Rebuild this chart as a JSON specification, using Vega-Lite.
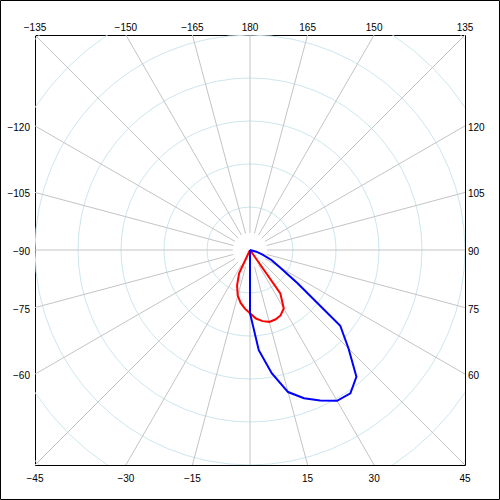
{
  "$schema": "https://vega.github.io/schema/vega-lite/v6.json",
  "width": 430,
  "height": 430,
  "autosize": {"type": "none"},
  "padding": {"left": 35, "top": 35, "right": 35, "bottom": 35},
  "background": "white",
  "config": {"view": {"stroke": "black", "strokeWidth": 1}},
  "datasets": {
    "angles": [
      {"angle": -165}, {"angle": -150}, {"angle": -135}, {"angle": -120}, {"angle": -105}, {"angle": -90},
      {"angle": -75}, {"angle": -60}, {"angle": -45}, {"angle": -30}, {"angle": -15}, {"angle": 0},
      {"angle": 15}, {"angle": 30}, {"angle": 45}, {"angle": 60}, {"angle": 75}, {"angle": 90},
      {"angle": 105}, {"angle": 120}, {"angle": 135}, {"angle": 150}, {"angle": 165}, {"angle": 180}
    ],
    "rings": [{"r": 100}, {"r": 200}, {"r": 300}, {"r": 400}, {"r": 500}, {"r": 600}, {"r": 700}],
    "curves": [
      {"series": "curve1", "angle": -5, "cd": 0},
      {"series": "curve1", "angle": 0, "cd": 147},
      {"series": "curve1", "angle": 5, "cd": 234},
      {"series": "curve1", "angle": 10, "cd": 291},
      {"series": "curve1", "angle": 15, "cd": 342},
      {"series": "curve1", "angle": 20, "cd": 367},
      {"series": "curve1", "angle": 25, "cd": 386},
      {"series": "curve1", "angle": 30, "cd": 405},
      {"series": "curve1", "angle": 35, "cd": 407},
      {"series": "curve1", "angle": 40, "cd": 385},
      {"series": "curve1", "angle": 45, "cd": 324},
      {"series": "curve1", "angle": 50, "cd": 274},
      {"series": "curve1", "angle": 55, "cd": 135},
      {"series": "curve1", "angle": 60, "cd": 80},
      {"series": "curve1", "angle": 65, "cd": 55},
      {"series": "curve1", "angle": 70, "cd": 30},
      {"series": "curve1", "angle": 75, "cd": 15},
      {"series": "curve1", "angle": 80, "cd": 0},
      {"series": "curve2", "angle": -30, "cd": 0},
      {"series": "curve2", "angle": -25, "cd": 60},
      {"series": "curve2", "angle": -20, "cd": 88},
      {"series": "curve2", "angle": -15, "cd": 110},
      {"series": "curve2", "angle": -10, "cd": 125},
      {"series": "curve2", "angle": -5, "cd": 137},
      {"series": "curve2", "angle": 0, "cd": 147},
      {"series": "curve2", "angle": 5, "cd": 160},
      {"series": "curve2", "angle": 10, "cd": 168},
      {"series": "curve2", "angle": 15, "cd": 173},
      {"series": "curve2", "angle": 20, "cd": 172},
      {"series": "curve2", "angle": 25, "cd": 168},
      {"series": "curve2", "angle": 30, "cd": 157},
      {"series": "curve2", "angle": 35, "cd": 123},
      {"series": "curve2", "angle": 40, "cd": 0}
    ]
  },
  "layer": [
    {
      "data": {"name": "rings"},
      "mark": {"type": "point", "shape": "circle", "filled": false, "stroke": "#cde6ee", "strokeWidth": 1, "opacity": 1, "clip": true},
      "encoding": {
        "x": {"datum": 0, "type": "quantitative", "scale": {"domain": [-500, 500], "nice": false, "zero": false}, "axis": null},
        "y": {"datum": 0, "type": "quantitative", "scale": {"domain": [-500, 500], "nice": false, "zero": false}, "axis": null},
        "size": {"field": "r", "type": "quantitative", "scale": {"type": "pow", "exponent": 2, "domain": [0, 700], "range": [0, 362404]}, "legend": null}
      }
    },
    {
      "data": {"name": "angles"},
      "transform": [
        {"calculate": "datum.angle * PI / 180", "as": "rad"},
        {"calculate": "500 / max(abs(sin(datum.rad)), abs(cos(datum.rad)))", "as": "s"},
        {"calculate": "40 * sin(datum.rad)", "as": "x1"},
        {"calculate": "-40 * cos(datum.rad)", "as": "y1"},
        {"calculate": "datum.s * sin(datum.rad)", "as": "x2"},
        {"calculate": "-datum.s * cos(datum.rad)", "as": "y2"}
      ],
      "mark": {"type": "rule", "color": "#c4c4c4", "strokeWidth": 1},
      "encoding": {
        "x": {"field": "x1", "type": "quantitative", "scale": {"domain": [-500, 500], "nice": false, "zero": false}, "axis": null},
        "y": {"field": "y1", "type": "quantitative", "scale": {"domain": [-500, 500], "nice": false, "zero": false}, "axis": null},
        "x2": {"field": "x2"},
        "y2": {"field": "y2"}
      }
    },
    {
      "data": {"values": [{}]},
      "mark": {"type": "rect", "filled": false, "stroke": "black", "strokeWidth": 1, "clip": false},
      "encoding": {
        "x": {"datum": -580.2, "type": "quantitative"},
        "x2": {"datum": 580.2},
        "y": {"datum": -580.2, "type": "quantitative"},
        "y2": {"datum": 580.2}
      }
    },
    {
      "data": {"name": "angles"},
      "transform": [
        {"filter": "abs(datum.angle) >= 135"},
        {"calculate": "datum.angle * PI / 180", "as": "rad"},
        {"calculate": "500 / max(abs(sin(datum.rad)), abs(cos(datum.rad)))", "as": "s"},
        {"calculate": "datum.s * sin(datum.rad)", "as": "fx"},
        {"calculate": "-datum.s * cos(datum.rad)", "as": "fy"}
      ],
      "mark": {"type": "text", "font": "Liberation Sans", "fontSize": 10, "color": "black", "align": "center", "baseline": "middle", "dy": -7, "clip": false},
      "encoding": {
        "x": {"field": "fx", "type": "quantitative"},
        "y": {"field": "fy", "type": "quantitative"},
        "text": {"field": "angle", "type": "quantitative", "format": "d"}
      }
    },
    {
      "data": {"name": "angles"},
      "transform": [
        {"filter": "abs(datum.angle) <= 45 && datum.angle != 0"},
        {"calculate": "datum.angle * PI / 180", "as": "rad"},
        {"calculate": "500 / max(abs(sin(datum.rad)), abs(cos(datum.rad)))", "as": "s"},
        {"calculate": "datum.s * sin(datum.rad)", "as": "fx"},
        {"calculate": "-datum.s * cos(datum.rad)", "as": "fy"}
      ],
      "mark": {"type": "text", "font": "Liberation Sans", "fontSize": 10, "color": "black", "align": "center", "baseline": "middle", "dy": 14, "clip": false},
      "encoding": {
        "x": {"field": "fx", "type": "quantitative"},
        "y": {"field": "fy", "type": "quantitative"},
        "text": {"field": "angle", "type": "quantitative", "format": "d"}
      }
    },
    {
      "data": {"name": "angles"},
      "transform": [
        {"filter": "datum.angle > -135 && datum.angle < -45"},
        {"calculate": "datum.angle * PI / 180", "as": "rad"},
        {"calculate": "500 / max(abs(sin(datum.rad)), abs(cos(datum.rad)))", "as": "s"},
        {"calculate": "datum.s * sin(datum.rad)", "as": "fx"},
        {"calculate": "-datum.s * cos(datum.rad)", "as": "fy"}
      ],
      "mark": {"type": "text", "font": "Liberation Sans", "fontSize": 10, "color": "black", "align": "right", "baseline": "middle", "dx": -5, "dy": 2, "clip": false},
      "encoding": {
        "x": {"field": "fx", "type": "quantitative"},
        "y": {"field": "fy", "type": "quantitative"},
        "text": {"field": "angle", "type": "quantitative", "format": "d"}
      }
    },
    {
      "data": {"name": "angles"},
      "transform": [
        {"filter": "datum.angle > 45 && datum.angle < 135"},
        {"calculate": "datum.angle * PI / 180", "as": "rad"},
        {"calculate": "500 / max(abs(sin(datum.rad)), abs(cos(datum.rad)))", "as": "s"},
        {"calculate": "datum.s * sin(datum.rad)", "as": "fx"},
        {"calculate": "-datum.s * cos(datum.rad)", "as": "fy"}
      ],
      "mark": {"type": "text", "font": "Liberation Sans", "fontSize": 10, "color": "black", "align": "left", "baseline": "middle", "dx": 3, "dy": 2, "clip": false},
      "encoding": {
        "x": {"field": "fx", "type": "quantitative"},
        "y": {"field": "fy", "type": "quantitative"},
        "text": {"field": "angle", "type": "quantitative", "format": "d"}
      }
    },
    {
      "data": {"name": "curves"},
      "transform": [
        {"filter": "datum.series == 'curve2'"},
        {"calculate": "datum.angle * PI / 180", "as": "rad"},
        {"calculate": "datum.cd * sin(datum.rad)", "as": "px"},
        {"calculate": "-datum.cd * cos(datum.rad)", "as": "py"}
      ],
      "mark": {"type": "line", "color": "#ff0000", "strokeWidth": 2},
      "encoding": {
        "x": {"field": "px", "type": "quantitative"},
        "y": {"field": "py", "type": "quantitative"},
        "order": {"field": "angle", "type": "quantitative"}
      }
    },
    {
      "data": {"name": "curves"},
      "transform": [
        {"filter": "datum.series == 'curve1'"},
        {"calculate": "datum.angle * PI / 180", "as": "rad"},
        {"calculate": "datum.cd * sin(datum.rad)", "as": "px"},
        {"calculate": "-datum.cd * cos(datum.rad)", "as": "py"}
      ],
      "mark": {"type": "line", "color": "#0000ff", "strokeWidth": 2},
      "encoding": {
        "x": {"field": "px", "type": "quantitative"},
        "y": {"field": "py", "type": "quantitative"},
        "order": {"field": "angle", "type": "quantitative"}
      }
    }
  ]
}
